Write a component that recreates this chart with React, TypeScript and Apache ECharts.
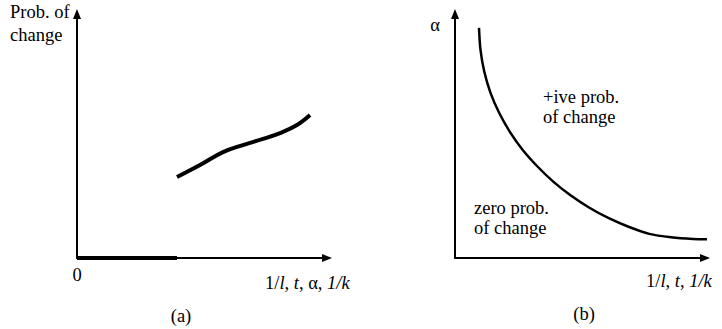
import React, { useEffect, useRef } from "react";
import * as echarts from "echarts";

// Panel (a): thick zero segment and rising curve (x: 0..10, y: 0..10 units)
const zeroSegment: [number, number][] = [
  [0, 0],
  [4.0, 0],
];
const riseCurve: [number, number][] = [
  [4.0, 3.32],
  [4.92, 3.81],
  [5.84, 4.34],
  [6.64, 4.63],
  [7.44, 4.88],
  [8.12, 5.12],
  [8.8, 5.45],
  [9.32, 5.86],
];
// Panel (b): boundary curve
const boundaryCurve: [number, number][] = [
  [0.96, 9.43],
  [1.02, 8.53],
  [1.17, 7.64],
  [1.42, 6.77],
  [1.77, 5.94],
  [2.2, 5.16],
  [2.71, 4.43],
  [3.3, 3.75],
  [3.93, 3.13],
  [4.62, 2.57],
  [5.36, 2.07],
  [6.13, 1.64],
  [6.94, 1.28],
  [7.77, 0.99],
  [8.64, 0.85],
  [9.52, 0.78],
  [10.12, 0.77],
];

const FONT = "'Liberation Serif', 'Times New Roman', Times, serif";
const FS = 18.5;

export default function App() {
  const ref = useRef<HTMLDivElement>(null);
  useEffect(() => {
    if (!ref.current) return;
    const chart = echarts.init(ref.current, undefined, { renderer: "svg" });
    const axisCommon = {
      type: "value" as const,
      min: 0,
      max: 10,
      splitLine: { show: false },
      axisTick: { show: false },
      axisLabel: { show: false },
      axisLine: {
        show: true,
        onZero: false,
        symbol: ["none", "triangle"],
        symbolSize: [8, 10],
        lineStyle: { color: "#000", width: 2 },
      },
    };
    const txt = (x: number, y: number, text: string, align = "left") => ({
      type: "text",
      x,
      y,
      style: {
        text,
        fill: "#000",
        fontFamily: FONT,
        fontSize: FS,
        align,
        verticalAlign: "middle",
      },
    });
    const rich = {
      n: { fontFamily: FONT, fontSize: FS, color: "#000" },
      i: { fontFamily: FONT, fontSize: FS, fontStyle: "italic", color: "#000" },
    };
    const richText = (x: number, y: number, text: string) => ({
      type: "text",
      x,
      y,
      style: {
        text,
        rich,
        fill: "#000",
        fontFamily: FONT,
        fontSize: FS,
        align: "left",
        verticalAlign: "middle",
      },
    });
    chart.setOption({
      animation: false,
      backgroundColor: "#fff",
      textStyle: { fontFamily: FONT },
      grid: [
        { left: 77, top: 14, width: 250, height: 244 },
        { left: 455, top: 14, width: 250, height: 244 },
      ],
      xAxis: [
        { ...axisCommon, gridIndex: 0 },
        { ...axisCommon, gridIndex: 1 },
      ],
      yAxis: [
        { ...axisCommon, gridIndex: 0 },
        { ...axisCommon, gridIndex: 1 },
      ],
      series: [
        {
          type: "line",
          xAxisIndex: 0,
          yAxisIndex: 0,
          data: zeroSegment,
          symbol: "none",
          clip: false,
          lineStyle: { color: "#000", width: 4 },
        },
        {
          type: "line",
          xAxisIndex: 0,
          yAxisIndex: 0,
          data: riseCurve,
          smooth: 0.4,
          symbol: "none",
          clip: false,
          lineStyle: { color: "#000", width: 4 },
        },
        {
          type: "line",
          xAxisIndex: 1,
          yAxisIndex: 1,
          data: boundaryCurve,
          smooth: 0.3,
          symbol: "none",
          clip: false,
          lineStyle: { color: "#000", width: 2.5 },
        },
      ],
      graphic: [
        txt(10, 12, "Prob. of"),
        txt(10, 35, "change"),
        txt(77, 275, "0", "center"),
        richText(265, 283, "{n|1/}{i|l}{n|, }{i|t}{n|, α, }{i|1/k}"),
        txt(181, 316, "(a)", "center"),
        txt(435, 25, "α", "center"),
        txt(543, 97, "+ive prob."),
        txt(543, 117, "of change"),
        txt(474, 208, "zero prob."),
        txt(474, 228, "of change"),
        richText(646, 281, "{n|1/}{i|l}{n|, }{i|t}{n|, }{i|1/k}"),
        txt(584, 314, "(b)", "center"),
      ],
    });
    return () => chart.dispose();
  }, []);
  return (
    <div
      ref={ref}
      style={{ position: "fixed", left: 0, top: 0, width: 722, height: 329 }}
    />
  );
}
